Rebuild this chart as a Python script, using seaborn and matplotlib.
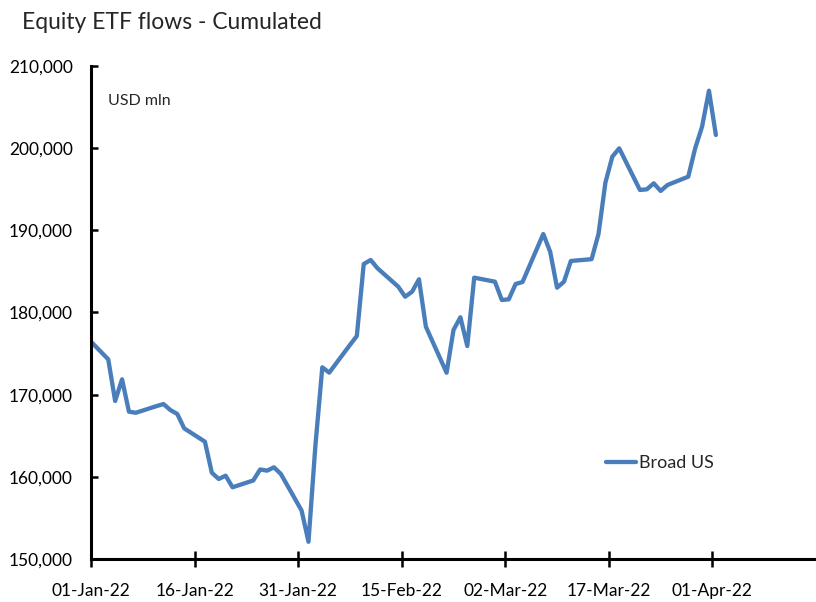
import pandas as pd
import matplotlib
matplotlib.use("Agg")
import matplotlib.pyplot as plt
import matplotlib.dates as mdates
from matplotlib.ticker import FuncFormatter
import seaborn as sns

# cumulated equity ETF flows, USD mln
dates = [
    "2021-12-31",
    "2022-01-03", "2022-01-04", "2022-01-05", "2022-01-06", "2022-01-07",
    "2022-01-10", "2022-01-11", "2022-01-12", "2022-01-13", "2022-01-14",
    "2022-01-17", "2022-01-18", "2022-01-19", "2022-01-20", "2022-01-21",
    "2022-01-24", "2022-01-25", "2022-01-26", "2022-01-27", "2022-01-28",
    "2022-01-31", "2022-02-01", "2022-02-02", "2022-02-03", "2022-02-04",
    "2022-02-07", "2022-02-08", "2022-02-09", "2022-02-10", "2022-02-11",
    "2022-02-14", "2022-02-15", "2022-02-16", "2022-02-17", "2022-02-18",
    "2022-02-21", "2022-02-22", "2022-02-23", "2022-02-24", "2022-02-25",
    "2022-02-28", "2022-03-01", "2022-03-02", "2022-03-03", "2022-03-04",
    "2022-03-07", "2022-03-08", "2022-03-09", "2022-03-10", "2022-03-11",
    "2022-03-14", "2022-03-15", "2022-03-16", "2022-03-17", "2022-03-18",
    "2022-03-21", "2022-03-22", "2022-03-23", "2022-03-24", "2022-03-25",
    "2022-03-28", "2022-03-29", "2022-03-30", "2022-03-31", "2022-04-01",
]
broad_us = [
    176880,
    174300, 169230, 171870, 167930, 167800,
    168610, 168860, 168130, 167650, 165900,
    164280, 160500, 159740, 160140, 158730,
    159560, 160900, 160750, 161160, 160350,
    155900, 152100, 163800, 173330, 172680,
    176050, 177140, 185900, 186390, 185380,
    183140, 181920, 182530, 184040, 178270,
    172670, 177870, 179420, 175920, 184240,
    183750, 181520, 181600, 183470, 183710,
    189550, 187400, 183020, 183750, 186270,
    186490, 189550, 195800, 198960, 199980,
    194910, 194990, 195720, 194790, 195520,
    196530, 199980, 202610, 206990, 201600,
]
tick_dates = ["2022-01-01", "2022-01-16", "2022-01-31", "2022-02-15",
              "2022-03-02", "2022-03-17", "2022-04-01"]
y_ticks = [150000, 160000, 170000, 180000, 190000, 200000, 210000]

df = pd.DataFrame({"date": pd.to_datetime(dates), "value": broad_us})
# excel date axis puts each point in the middle of its day
df["date"] = df["date"] + pd.Timedelta(hours=12)

sns.set_style("ticks")
plt.rcParams["font.family"] = ["Lato", "DejaVu Sans"]

fig = plt.figure(figsize=(8.16, 6.02), dpi=100)
ax = fig.add_axes([0.1115, 0.0714, 0.8885, 0.819])

sns.lineplot(data=df, x="date", y="value", color="#4A7EBB", linewidth=3.1,
             label="Broad US", ax=ax)

ax.set_xlim(pd.Timestamp("2022-01-01"), pd.Timestamp("2022-04-16"))
ax.set_ylim(150000, 210000)
ax.set_xticks(pd.to_datetime(tick_dates))
ax.xaxis.set_major_formatter(mdates.DateFormatter("%d-%b-%y"))
ax.set_yticks(y_ticks)
ax.yaxis.set_major_formatter(FuncFormatter(lambda v, _: f"{v:,.0f}"))
ax.set_xlabel("")
ax.set_ylabel("")

for s in ["top", "right"]:
    ax.spines[s].set_visible(False)
for s in ["left", "bottom"]:
    ax.spines[s].set_linewidth(2.2)
    ax.spines[s].set_color("black")

ax.tick_params(axis="x", direction="inout", length=11, width=1.8,
               labelsize=12.5, pad=12, colors="black")
ax.tick_params(axis="y", direction="in", length=5, width=1.8,
               labelsize=12.5, pad=13, colors="black")

ax.text(0.024, 0.92, "USD mln", transform=ax.transAxes, fontsize=11.5)
fig.text(0.027, 0.963, "Equity ETF flows - Cumulated", fontsize=16.5, va="center")

ax.legend(loc="center left", bbox_to_anchor=(0.71, 0.195), frameon=False,
          fontsize=13, handlelength=1.7, handletextpad=0.15,
          borderpad=0, borderaxespad=0)

fig.savefig("out.png", dpi=100)
